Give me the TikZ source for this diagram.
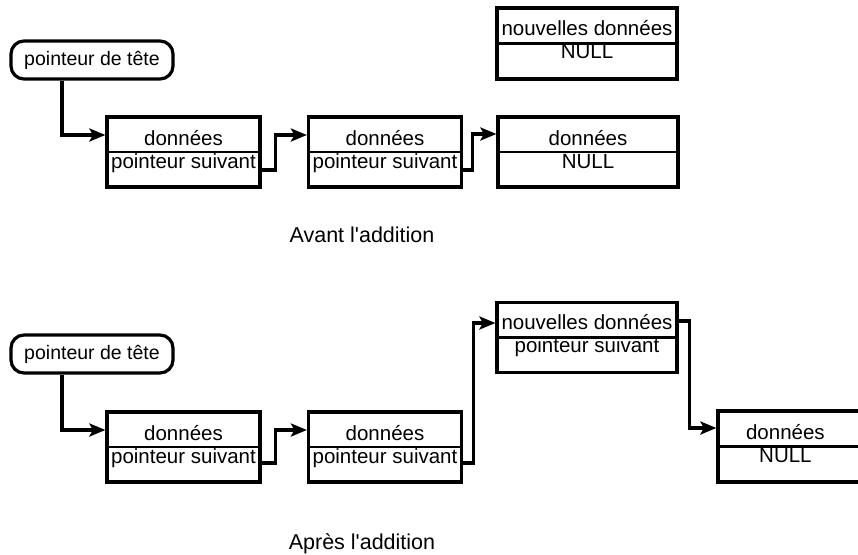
\documentclass[tikz,border=0pt]{standalone}
\usepackage{fontspec}
\setmainfont{Liberation Sans}[Ligatures=TeXOff]
\usetikzlibrary{arrows.meta,calc}
\begin{document}
\begin{tikzpicture}[x=1pt,y=-1pt,
  box/.style={draw,line width=3.2pt,minimum height=70pt,inner sep=0pt},
  head/.style={draw,line width=3.2pt,rounded corners=13pt,minimum width=162pt,minimum height=38pt,inner sep=0pt,font=\fontsize{19.5}{23}\selectfont},
  lbl/.style={anchor=base,inner sep=0pt,font=\fontsize{20.5}{24}\selectfont},
  captxt/.style={anchor=base,inner sep=0pt,font=\fontsize{21.5}{25}\selectfont},
  link/.style={line width=3.2pt,-{Stealth[length=16pt,width=13pt,inset=3.5pt]}},
  div/.style={line width=2.4pt}]
\useasboundingbox (0,0) rectangle (858,554);
\clip (0,0) rectangle (858,554);

% ---------- before ----------
\node[head] (ph1) at (92,60) {pointeur de tête};
\node[box,minimum width=153pt] (a1) at (183.5,152) {};
\node[box,minimum width=153pt] (a2) at (385,152) {};
\node[box,minimum width=180pt] (a3) at (588,152) {};
\node[box,minimum width=180pt,minimum height=71pt] (n1) at (587,43.5) {};
\foreach \b in {a1,a2,a3,n1} \draw[div] (\b.west) -- (\b.east);

\node[lbl] (a1t) at ($(a1.center)+(0,-7)$) {données};
\node[lbl] (a1b) at ($(a1.center)+(0,16)$) {pointeur suivant};
\node[lbl] (a2t) at ($(a2.center)+(0,-7)$) {données};
\node[lbl] (a2b) at ($(a2.center)+(0,16)$) {pointeur suivant};
\node[lbl] (a3t) at ($(a3.center)+(0,-7)$) {données};
\node[lbl] (a3b) at ($(a3.center)+(0,16)$) {NULL};
\node[lbl] (n1t) at ($(n1.center)+(0,-8)$) {nouvelles données};
\node[lbl] (n1b) at ($(n1.center)+(0,15)$) {NULL};

\draw[link] ($(ph1.south)+(-30,0)$) |- ($(a1.west)+(0,-17)$);
\draw[link] ($(a1.east)+(0,18)$) -- ++(14,0) |- ($(a2.west)+(0,-17)$);
\draw[link] ($(a2.east)+(0,18)$) -- ++(9,0) |- ($(a3.west)+(0,-18)$);

\node[captxt] (cap1) at (362,242) {Avant l'addition};

% ---------- after ----------
\node[head] (ph2) at (92,354) {pointeur de tête};
\node[box,minimum width=153pt] (b1) at (183.5,447) {};
\node[box,minimum width=153pt] (b2) at (385,447) {};
\node[box,minimum width=180pt] (nb) at (587,337.5) {};
\node[box,minimum width=180pt,minimum height=71pt] (b4) at (808,446.5) {};
\foreach \b in {b1,b2,nb,b4} \draw[div] (\b.west) -- (\b.east);

\node[lbl] (b1t) at ($(b1.center)+(0,-7)$) {données};
\node[lbl] (b1b) at ($(b1.center)+(0,16)$) {pointeur suivant};
\node[lbl] (b2t) at ($(b2.center)+(0,-7)$) {données};
\node[lbl] (b2b) at ($(b2.center)+(0,16)$) {pointeur suivant};
\node[lbl] (nbt) at ($(nb.center)+(0,-8)$) {nouvelles données};
\node[lbl] (nbb) at ($(nb.center)+(0,15)$) {pointeur suivant};
\node[lbl] (b4t) at ($(b4.west)+(69,-7)$) {données};
\node[lbl] (b4b) at ($(b4.west)+(69,16)$) {NULL};

\draw[link] ($(ph2.south)+(-30,0)$) |- ($(b1.west)+(0,-17)$);
\draw[link] ($(b1.east)+(0,16)$) -- ++(14,0) |- ($(b2.west)+(0,-17)$);
\draw[link] ($(b2.east)+(0,16)$) -- ++(10,0) |- ($(nb.west)+(0,-14.5)$);
\draw[link] ($(nb.east)+(0,-16.5)$) -- ++(11,0) |- ($(b4.west)+(0,-18.5)$);

\node[captxt] (cap2) at (362,549) {Après l'addition};
\end{tikzpicture}
\end{document}
